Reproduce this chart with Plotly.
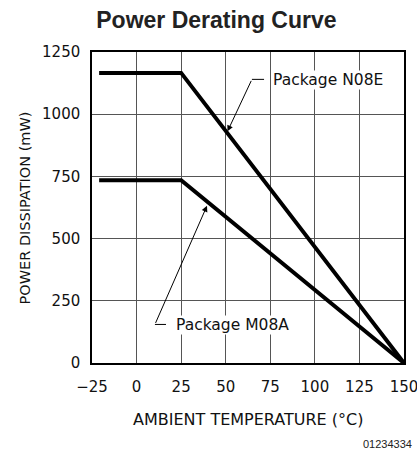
import plotly.graph_objects as go

# Data
temp_n08e = [-21, 25, 150]
power_n08e = [1166, 1166, 0]
temp_m08a = [-21, 25, 150]
power_m08a = [735, 735, 0]
x_ticks = [-25, 0, 25, 50, 75, 100, 125, 150]
y_ticks = [0, 250, 500, 750, 1000, 1250]

TICKFONT = dict(family="DejaVu Sans", size=15, color="#111")
LABELFONT = dict(family="DejaVu Sans", size=15.5, color="#111")

fig = go.Figure()
fig.add_trace(go.Scatter(x=temp_n08e, y=power_n08e, mode="lines",
                         line=dict(color="black", width=4), showlegend=False, hoverinfo="skip"))
fig.add_trace(go.Scatter(x=temp_m08a, y=power_m08a, mode="lines",
                         line=dict(color="black", width=4), showlegend=False, hoverinfo="skip"))

# leader lines (horizontal short segments)
fig.add_trace(go.Scatter(x=[64.7, 71.5], y=[1140, 1140], mode="lines",
                         line=dict(color="black", width=1), showlegend=False, hoverinfo="skip"))
fig.add_trace(go.Scatter(x=[10.3, 16.5], y=[155, 155], mode="lines",
                         line=dict(color="black", width=1), showlegend=False, hoverinfo="skip"))

annotations = [
    dict(x=51, y=931, ax=64.7, ay=1140, axref="x", ayref="y", xref="x", yref="y",
         text="", showarrow=True, arrowhead=2, arrowsize=1.2, arrowwidth=1, arrowcolor="black"),
    dict(x=39.5, y=632, ax=10.3, ay=155, axref="x", ayref="y", xref="x", yref="y",
         text="", showarrow=True, arrowhead=2, arrowsize=1.2, arrowwidth=1, arrowcolor="black"),
    dict(x=76.0, y=1138, xref="x", yref="y", text="Package N08E", showarrow=False,
         xanchor="left", yanchor="middle", font=LABELFONT, bgcolor="white", borderpad=0),
    dict(x=21.5, y=152, xref="x", yref="y", text="Package M08A", showarrow=False,
         xanchor="left", yanchor="middle", font=LABELFONT, bgcolor="white", borderpad=0),
    dict(x=0.5, y=-0.183, xref="paper", yref="paper", xanchor="center", yanchor="middle",
         text="AMBIENT TEMPERATURE (°C)", showarrow=False,
         font=dict(family="DejaVu Sans", size=16, color="#111")),
    dict(x=-0.215, y=0.5, xref="paper", yref="paper", xanchor="center", yanchor="middle",
         text="POWER DISSIPATION (mW)", showarrow=False, textangle=-90,
         font=dict(family="DejaVu Sans", size=14.5, color="#111")),
    dict(x=1.032, y=-0.26, xref="paper", yref="paper", xanchor="right", yanchor="middle",
         text="01234334", showarrow=False,
         font=dict(family="Liberation Sans", size=11, color="#222")),
]

fig.update_layout(
    width=417, height=449,
    margin=dict(l=92, r=13, t=52, b=86, autoexpand=False),
    paper_bgcolor="white", plot_bgcolor="white",
    title=dict(text="<b>Power Derating Curve</b>", x=0.519, xanchor="center", y=0.955, yanchor="middle",
               font=dict(family="Liberation Sans", size=23, color="#222")),
    annotations=annotations,
    xaxis=dict(range=[-25, 150], tickvals=x_ticks,
               ticktext=["\u221225" if v == -25 else str(v) for v in x_ticks],
               showgrid=True, gridcolor="#555", gridwidth=1, zeroline=False,
               showline=True, linecolor="black", linewidth=1.5, mirror=True,
               ticks="", tickfont=TICKFONT, ticklabelstandoff=9, ticklabeloverflow="allow",
               automargin=False),
    yaxis=dict(range=[0, 1250], tickvals=y_ticks, showgrid=True, gridcolor="#555", gridwidth=1,
               zeroline=False, showline=True, linecolor="black", linewidth=1.5, mirror=True,
               ticks="", tickfont=TICKFONT, ticklabelstandoff=7, automargin=False),
)

fig.write_html("out.html", config={"displayModeBar": False},
               post_script="document.body.style.margin='0';document.body.style.overflow='hidden';")
